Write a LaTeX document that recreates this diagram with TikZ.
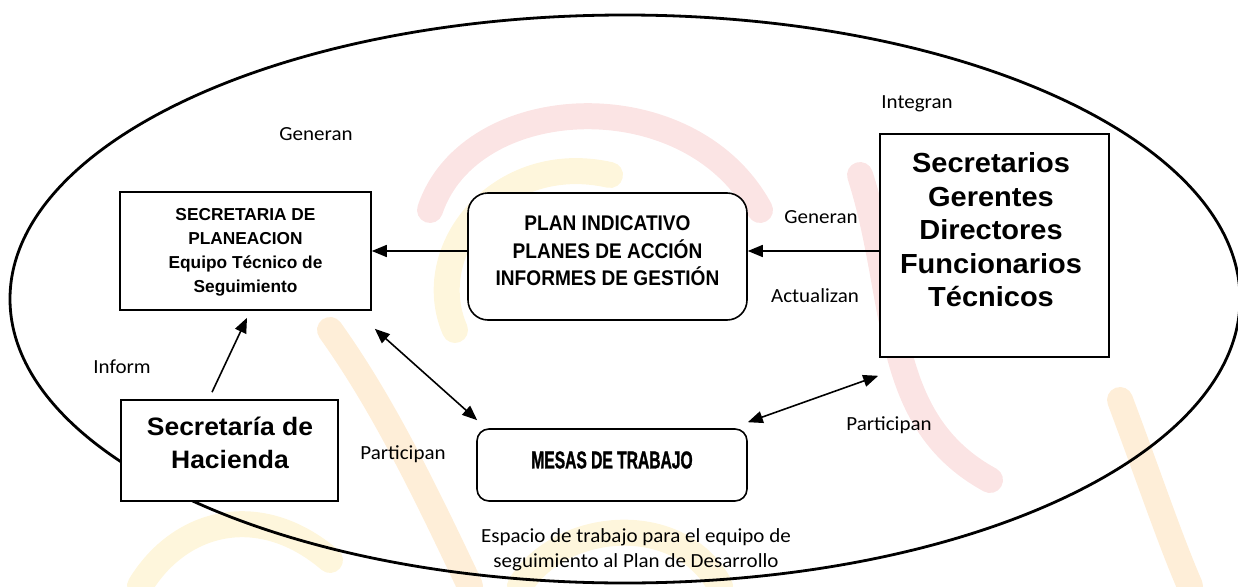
\documentclass[tikz,border=0pt]{standalone}
\usepackage{fontspec}
\usepackage{xcolor}
\usetikzlibrary{arrows.meta, positioning, calc}
\setmainfont{Carlito}
\newfontfamily\labelfont[FakeStretch=1.05]{Carlito}
\newfontfamily\boxfont[FakeStretch=1.05]{Liberation Sans}
\newfontfamily\planfont[FakeStretch=1.0]{Liberation Sans}
\newfontfamily\narrowfont[FakeStretch=0.9]{Liberation Sans}
\newfontfamily\mesasfont[FakeStretch=0.64, FakeBold=1.2]{Liberation Sans}
\definecolor{wmred}{RGB}{251,228,228}
\definecolor{wmorange}{RGB}{254,238,216}
\definecolor{wmyellow}{RGB}{254,246,220}

\begin{document}
\begin{tikzpicture}[x=1pt, y=-1pt,
    box/.style={rectangle, draw, fill=white, line width=1.6pt, inner sep=0pt},
    rbox/.style={box, rounded corners=20pt},
    txt/.style={align=center, inner sep=0pt},
    lbl/.style={font=\labelfont\fontsize{20}{25}\selectfont, inner sep=0pt, align=center},
    arrow/.style={-{Triangle[length=15pt,width=12pt]}, line width=1.6pt},
    biarrow/.style={{Triangle[length=15pt,width=12pt]}-{Triangle[length=15pt,width=12pt]}, line width=1.6pt},
    wm/.style={line width=26pt, line cap=round}
]
\useasboundingbox (0,0) rectangle (1238,586);

\draw[wm, wmred] (430,210) .. controls (470,90) and (690,80) .. (760,210);
\draw[wm, wmyellow] (455,330) .. controls (420,250) and (500,150) .. (610,175);
\draw[wm, wmred] (860,175) .. controls (900,300) and (880,420) .. (990,480);
\draw[wm, wmorange] (1120,400) .. controls (1150,480) and (1170,540) .. (1190,586);
\draw[wm, wmyellow] (140,586) .. controls (180,520) and (260,500) .. (330,560);
\draw[wm, wmorange] (330,330) .. controls (380,400) and (420,480) .. (470,586);
\draw[wm, wmyellow] (520,586) .. controls (560,520) and (680,510) .. (720,586);

\draw[line width=2.8pt] (625,299) ellipse [x radius=615, y radius=284];

\node[box, minimum width=251pt, minimum height=118pt] (plan) at (245.5,251) {};
\node[txt, font=\planfont\bfseries\fontsize{17.3}{24}\selectfont] (plantxt) at (245.5,252)
  {SECRETARIA DE\\PLANEACION\\Equipo Técnico de\\Seguimiento};

\node[rbox, minimum width=279pt, minimum height=127pt] (ind) at (607.5,256.5) {};
\node[txt, font=\narrowfont\bfseries\fontsize{21.2}{27.5}\selectfont] (indtxt) at (607.5,251)
  {PLAN INDICATIVO\\PLANES DE ACCIÓN\\INFORMES DE GESTIÓN};

\node[box, minimum width=229pt, minimum height=223pt] (func) at (994.5,245.5) {};
\node[txt, font=\boxfont\bfseries\fontsize{27.6}{33.5}\selectfont] (functxt) at (991,230)
  {Secretarios\\Gerentes\\Directores\\Funcionarios\\Técnicos};

\node[box, minimum width=217pt, minimum height=101pt] (hac) at (229.5,450.5) {};
\node[txt, font=\boxfont\bfseries\fontsize{25.2}{33}\selectfont] (hactxt) at (230,442.5)
  {Secretaría de\\Hacienda};

\node[rbox, rounded corners=12pt, minimum width=270pt, minimum height=72pt] (mesas) at (612,465) {};
\node[txt, font=\mesasfont\bfseries\fontsize{24.4}{28}\selectfont] (mesastxt) at (612,460)
  {MESAS DE TRABAJO};

\node[lbl] (gen1) at (316,134) {Generan};
\node[lbl] (integ) at (917,104) {Integran};
\node[lbl] (gen2) at (821,217) {Generan};
\node[lbl] (act) at (815,296) {Actualizan};
\node[lbl] (inf) at (122,367) {Inform};
\node[lbl] (part1) at (403,454) {Participan};
\node[lbl] (part2) at (889,425) {Participan};
\node[lbl] (esp) at (636,550) {Espacio de trabajo para el equipo de\\seguimiento al Plan de Desarrollo};

\draw[arrow] (ind.west |- plan.east) -- (plan.east);
\draw[arrow] (func.west |- plan.east) -- (ind.east |- plan.east);
\draw[arrow] ([shift={(-17.5,-7)}]hac.north) -- ([shift={(1.5,7)}]plan.south);
\draw[biarrow] ([shift={(3,18)}]plan.south east) -- ([shift={(1,-8)}]mesas.north west);
\draw[biarrow] ([shift={(0,-6)}]mesas.north east) -- ([shift={(-1,18)}]func.south west);
\end{tikzpicture}
\end{document}
